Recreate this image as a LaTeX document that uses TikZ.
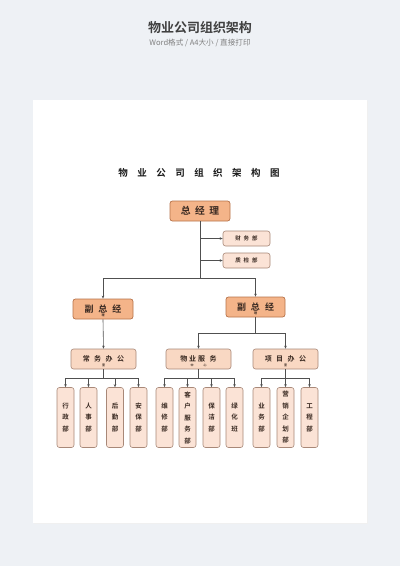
\documentclass[tikz,border=0pt]{standalone}
\usepackage{fontspec}
\newfontfamily\cjk{Noto Sans CJK SC}
\newfontfamily\cjkb{Noto Sans CJK SC Bold}
\usetikzlibrary{arrows.meta}
\definecolor{bgc}{HTML}{EEF1F5}
\definecolor{orf}{HTML}{F4B489}
\definecolor{ord}{HTML}{B8734A}
\definecolor{ofc}{HTML}{F9D8C3}
\definecolor{ltf}{HTML}{FBE3D6}
\definecolor{ltd}{HTML}{A88878}
\definecolor{lnc}{HTML}{505050}
\definecolor{txc}{HTML}{3A2A22}
\tikzset{
  main/.style={draw=ord, fill=orf, rounded corners=2.5pt, line width=0.7pt, inner sep=0pt, font=\cjkb\fontsize{9}{10}\selectfont, text=txc},
  sub/.style={draw=ltd, fill=ofc, rounded corners=2.5pt, line width=0.6pt, inner sep=0pt, font=\cjkb\fontsize{7}{8}\selectfont, text=txc},
  side/.style={draw=ltd, fill=ltf, rounded corners=2.5pt, line width=0.6pt, inner sep=0pt, minimum width=47pt, minimum height=15pt, font=\cjkb\fontsize{5.5}{6}\selectfont, text=txc},
  dept/.style={draw=ltd, fill=ltf, rounded corners=2.5pt, line width=0.6pt, inner sep=0pt, minimum width=17pt, minimum height=60pt, align=center, font=\cjkb\fontsize{6.5}{11.5}\selectfont, text=txc},
  tinyt/.style={font=\cjkb\fontsize{3}{3}\selectfont, text=txc, inner sep=0pt},
  ln/.style={draw=lnc, line width=0.6pt},
  arr/.style={ln, -{Stealth[length=3pt,width=2.5pt]}}
}
\begin{document}
\begin{tikzpicture}[x=1pt,y=-1pt]
\useasboundingbox (0,0) rectangle (400,566);
\fill[bgc] (0,0) rectangle (400,566);
\fill[black!6] (33.5,100.5) rectangle (367.5,524);
\fill[white] (33,100) rectangle (367,523);
\node[font=\cjkb\fontsize{13}{14}\selectfont, text=black!75] (hdr) at (200,28) {物业公司组织架构};
\node[font=\cjk\fontsize{7.6}{8}\selectfont, text=black!50] (subhdr) at (200,42.5) {Word格式 / A4大小 / 直接打印};
\node[font=\cjkb\fontsize{9.5}{10}\selectfont, text=black!90] (title) at (199,173) {物\hspace{9.5pt}业\hspace{9.5pt}公\hspace{9.5pt}司\hspace{9.5pt}组\hspace{9.5pt}织\hspace{9.5pt}架\hspace{9.5pt}构\hspace{9.5pt}图};
% general manager
\node[main, minimum width=60pt, minimum height=20pt, font=\cjkb\fontsize{9.8}{10}\selectfont] (gm) at (200,211) {总\hspace{4.5pt}经\hspace{4.5pt}理};
\node[side] (cw) at (246.5,238.5) {财\hspace{3pt}务\hspace{3pt}部};
\node[side] (zj) at (246.5,260.5) {质\hspace{3pt}检\hspace{3pt}部};
\coordinate (j1) at (200,238.5);
\coordinate (j2) at (200,260.5);
\coordinate (jm) at (200,278);
\coordinate (jl) at (103,278);
\coordinate (jr) at (255.5,278);
\draw[ln] (gm.south) -- (jm);
\draw[arr] (j1) -- (cw.west);
\draw[arr] (j2) -- (zj.west);
% vice managers
\node[main, minimum width=60pt, minimum height=20pt] (vl) at (103,309) {副\hspace{5pt}总\hspace{5pt}经};
\node[main, minimum width=59pt, minimum height=20pt] (vr) at (255.5,307) {副\hspace{5pt}总\hspace{5pt}经};
\node[tinyt] (vlt) at (103,315.5) {理};
\node[tinyt] (vrt) at (255.5,313.5) {理};
\draw[ln] (jl) -- (jr);
\draw[arr] (jl) -- (vl.north);
\draw[arr] (jr) -- (vr.north);
% offices
\node[sub, minimum width=65pt, minimum height=20pt] (cwb) at (103.5,359) {常\hspace{4.5pt}务\hspace{4.5pt}办\hspace{4.5pt}公};
\node[sub, minimum width=65pt, minimum height=20pt] (wyfw) at (198.5,359) {物\hspace{2pt}业\hspace{2pt}服\hspace{4.5pt}务};
\node[sub, minimum width=65pt, minimum height=20pt] (xmbg) at (285.5,359) {项\hspace{4.5pt}目\hspace{4.5pt}办\hspace{4.5pt}公};
\node[tinyt] (cwbt) at (103.5,365.5) {室};
\node[tinyt] (wyfwt) at (198.5,365.5) {中\hspace{10pt}心};
\node[tinyt] (xmbgt) at (285.5,365.5) {室};
\draw[arr] (vl.south) -- (cwb.north);
\coordinate (r1) at (255.5,333);
\coordinate (r1l) at (198.5,333);
\coordinate (r1r) at (285.5,333);
\draw[ln] (vr.south) -- (r1);
\draw[ln] (r1l) -- (r1r);
\draw[arr] (r1l) -- (wyfw.north);
\draw[arr] (r1r) -- (xmbg.north);
% departments
\node[dept] (d1) at (65.5,417.5) {行\\政\\部};
\node[dept] (d2) at (88.5,417.5) {人\\事\\部};
\node[dept] (d3) at (115,417.5) {后\\勤\\部};
\node[dept] (d4) at (138.5,417.5) {安\\保\\部};
\node[dept] (d5) at (164.5,417.5) {维\\修\\部};
\node[dept] (d6) at (187.5,417.5) {客\\户\\服\\务\\部};
\node[dept] (d7) at (211.5,417.5) {保\\洁\\部};
\node[dept] (d8) at (234.5,417.5) {绿\\化\\班};
\node[dept] (d9) at (261.5,417.5) {业\\务\\部};
\node[dept] (d10) at (285.5,417.5) {营\\销\\企\\划\\部};
\node[dept] (d11) at (309.5,417.5) {工\\程\\部};
% branches
\coordinate (b1) at (103.5,378);
\coordinate (b1l) at (65.5,378);
\coordinate (b1r) at (138.5,378);
\draw[ln] (cwb.south) -- (b1);
\draw[ln] (b1l) -- (b1r);
\foreach \d/\x in {d1/65.5,d2/88.5,d3/115,d4/138.5}{\draw[arr] (\x,378) -- (\d.north);}
\coordinate (b2) at (198.5,378);
\coordinate (b2l) at (164.5,378);
\coordinate (b2r) at (234.5,378);
\draw[ln] (wyfw.south) -- (b2);
\draw[ln] (b2l) -- (b2r);
\foreach \d/\x in {d5/164.5,d6/187.5,d7/211.5,d8/234.5}{\draw[arr] (\x,378) -- (\d.north);}
\coordinate (b3) at (285.5,378);
\coordinate (b3l) at (261.5,378);
\coordinate (b3r) at (309.5,378);
\draw[ln] (xmbg.south) -- (b3);
\draw[ln] (b3l) -- (b3r);
\foreach \d/\x in {d9/261.5,d10/285.5,d11/309.5}{\draw[arr] (\x,378) -- (\d.north);}
\end{tikzpicture}
\end{document}
